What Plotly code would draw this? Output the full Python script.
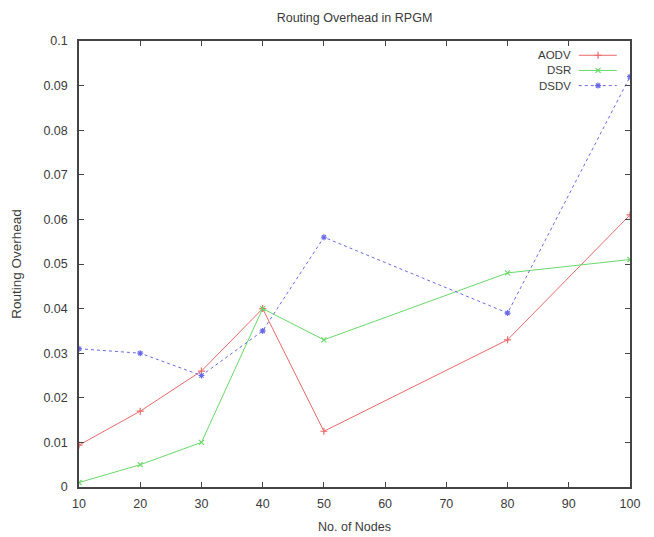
import plotly.graph_objects as go

nodes = [10, 20, 30, 40, 50, 80, 100]
aodv = [0.0094, 0.017, 0.026, 0.040, 0.0125, 0.033, 0.061]
dsr = [0.001, 0.005, 0.010, 0.040, 0.033, 0.048, 0.051]
dsdv = [0.031, 0.030, 0.025, 0.035, 0.056, 0.039, 0.092]

x_ticks = [10, 20, 30, 40, 50, 60, 70, 80, 90, 100]
y_ticks = [0, 0.01, 0.02, 0.03, 0.04, 0.05, 0.06, 0.07, 0.08, 0.09, 0.1]
y_tick_labels = ["0", "0.01", "0.02", "0.03", "0.04", "0.05", "0.06", "0.07", "0.08", "0.09", "0.1"]

series_names = ["AODV", "DSR", "DSDV"]
colors = ["#e86a6a", "#6ad86a", "#6a6ae8"]
symbols = ["cross-thin", "x-thin", "asterisk"]
dashes = ["solid", "solid", "dot"]

font = "Liberation Sans, Arial, sans-serif"
fs = 12.5
txt = "#3a3a3a"
fig = go.Figure()
for name, ys, c, s, d in zip(series_names, [aodv, dsr, dsdv], colors, symbols, dashes):
    fig.add_trace(go.Scatter(
        x=nodes, y=ys, mode="lines+markers", name=name,
        line=dict(color=c, width=1, dash=d),
        marker=dict(symbol=s, size=5, color=c, line=dict(color=c, width=1.2)),
        showlegend=False,
    ))

# legend samples (gnuplot style: text left, sample right) on an overlay axis
leg_y = [0.968, 0.934, 0.900]
for name, c, s, d, ly in zip(series_names, colors, symbols, dashes, leg_y):
    fig.add_trace(go.Scatter(
        x=[0.907, 0.976], y=[ly, ly], mode="lines", xaxis="x2", yaxis="y2",
        line=dict(color=c, width=1, dash=d), showlegend=False, hoverinfo="skip"))
    fig.add_trace(go.Scatter(
        x=[0.942], y=[ly], mode="markers", xaxis="x2", yaxis="y2",
        marker=dict(symbol=s, size=5, color=c, line=dict(color=c, width=1.2)),
        showlegend=False, hoverinfo="skip"))
    fig.add_annotation(x=0.896, y=ly, xref="x2", yref="y2", text=name,
                       showarrow=False, xanchor="right", yanchor="middle",
                       font=dict(size=11.5, color=txt, family=font))

axis_common = dict(showline=True, linecolor="#444", linewidth=1.5, mirror="ticks",
                   ticks="inside", ticklen=5, tickcolor="#444", showgrid=False,
                   zeroline=False, automargin=False,
                   tickfont=dict(size=fs, color=txt, family=font))

W, H = 646, 529  # page body has an 8px margin
fig.update_layout(
    width=W, height=H,
    margin=dict(l=71, r=24, t=33, b=50),
    plot_bgcolor="white", paper_bgcolor="white",
    title=dict(text="Routing Overhead in RPGM", x=0.5, xref="paper", xanchor="center",
               y=1 - 10 / H, yref="container", yanchor="middle",
               font=dict(size=fs, color=txt, family=font)),
    xaxis=dict(range=[10, 100], tickvals=x_ticks, ticklabelstandoff=4, **axis_common,
               title=dict(text="No. of Nodes", standoff=12,
                          font=dict(size=fs, color=txt, family=font))),
    yaxis=dict(range=[0, 0.1], tickvals=y_ticks, ticktext=y_tick_labels,
               ticklabelstandoff=7, **axis_common,
               title=dict(text="Routing Overhead", standoff=19,
                          font=dict(size=13.5, color=txt, family=font))),
    xaxis2=dict(overlaying="x", range=[0, 1], visible=False),
    yaxis2=dict(overlaying="y", range=[0, 1], visible=False),
    showlegend=False,
)

fig.write_html("out.html")
